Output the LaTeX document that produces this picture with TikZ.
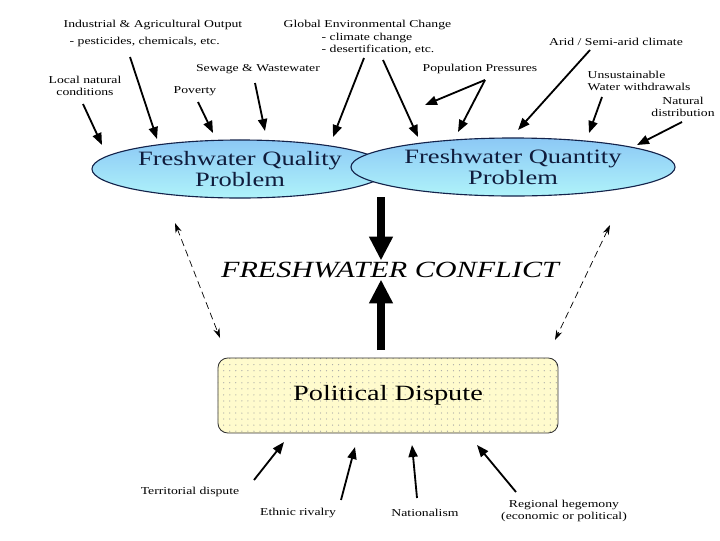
\documentclass[tikz,border=0pt]{standalone}
\usepackage{xcolor}
\usepackage{fontspec}
\setmainfont[FakeStretch=1.3]{Liberation Serif}
\usepackage{tikz}
\usetikzlibrary{arrows.meta,positioning,patterns,shapes.geometric}

\definecolor{navy}{RGB}{20,35,75}
\definecolor{skytop}{RGB}{140,200,245}
\definecolor{skybot}{RGB}{175,243,250}
\definecolor{boxfill}{RGB}{255,251,205}

% sparse dot grid for the dispute box
\pgfdeclarepatternformonly{sparsedots}{\pgfqpoint{-1pt}{-1pt}}{\pgfqpoint{1pt}{1pt}}{\pgfqpoint{4.3pt}{4.3pt}}{%
  \pgfpathcircle{\pgfqpoint{0pt}{0pt}}{0.45pt}\pgfusepath{fill}}

\begin{document}
\begin{tikzpicture}[
  x=0.025cm, y=-0.025cm,
  lbl/.style={font=\fontsize{7.5}{8.5}\selectfont, align=center, inner sep=1pt},
  prob/.style={ellipse, draw=navy, line width=0.8pt, top color=skytop, bottom color=skybot,
    minimum height=1.45cm, inner sep=0pt, text=navy!80!black, align=center,
    font=\fontsize{14.5}{15}\selectfont},
  dispute/.style={draw=black!80, rounded corners=7pt, line width=0.6pt,
    preaction={fill=boxfill}, pattern=sparsedots, pattern color=black!35,
    minimum width=8.5cm, minimum height=1.875cm, font=\fontsize{15.5}{16}\selectfont},
  feed/.style={-{Triangle[length=8.5pt,width=6.5pt]}, line width=1.3pt},
  big/.style={-{Triangle[length=17pt,width=16pt]}, line width=5.5pt},
  link/.style={{Stealth[length=7pt,width=4.5pt]}-{Stealth[length=7pt,width=4.5pt]},
    dashed, dash pattern=on 5pt off 3pt, line width=0.5pt},
]
\useasboundingbox (0,0) rectangle (720,540);

% problems
\node[prob, minimum width=7.4cm] (qual) at (240,169) {Freshwater Quality\\Problem};
\node[prob, minimum width=8.1cm] (quan) at (513,167) {Freshwater Quantity\\Problem};

% causes, top
\node[lbl, anchor=west] (ind) at (62,25) {Industrial \& Agricultural Output};
\node[lbl, anchor=west] (pest) at (68,42) {- pesticides, chemicals, etc.};
\node[lbl, anchor=west] (glob) at (282,25) {Global Environmental Change};
\node[lbl, anchor=west, align=left] (clim) at (320,44) {- climate change\\- desertification, etc.};
\node[lbl] (sew) at (258,69) {Sewage \& Wastewater};
\node[lbl] (loc) at (85,86) {Local natural\\conditions};
\node[lbl] (pov) at (195,91) {Poverty};
\node[lbl] (pop) at (480,69) {Population Pressures};
\node[lbl] (arid) at (616,42) {Arid / Semi-arid climate};
\node[lbl, anchor=west, align=left] (uns) at (586,81) {Unsustainable\\Water withdrawals};
\node[lbl] (nat) at (683,107) {Natural\\distribution};

\coordinate (loc-t) at (83,104);   \coordinate (loc-h) at (102,145);
\coordinate (ind-t) at (130,57);   \coordinate (ind-h) at (157,139);
\coordinate (pov-t) at (198,102);  \coordinate (pov-h) at (213,133);
\coordinate (sew-t) at (255,83);   \coordinate (sew-h) at (265,131);
\coordinate (glob-t1) at (364,58); \coordinate (glob-h1) at (333,137);
\coordinate (glob-t2) at (383,60); \coordinate (glob-h2) at (418,137);
\coordinate (pop-t) at (485,80);   \coordinate (pop-h1) at (425,105);
\coordinate (pop-h2) at (458,132);
\coordinate (arid-t) at (590,50);  \coordinate (arid-h) at (518,130);
\coordinate (uns-t) at (602,97);   \coordinate (uns-h) at (589,133);
\coordinate (nat-t) at (682,122);  \coordinate (nat-h) at (637,145);

\draw[feed] (loc-t) -- (loc-h);
\draw[feed] (ind-t) -- (ind-h);
\draw[feed] (pov-t) -- (pov-h);
\draw[feed] (sew-t) -- (sew-h);
\draw[feed] (glob-t1) -- (glob-h1);
\draw[feed] (glob-t2) -- (glob-h2);
\draw[feed] (pop-t) -- (pop-h1);
\draw[feed] (pop-t) -- (pop-h2);
\draw[feed] (arid-t) -- (arid-h);
\draw[feed] (uns-t) -- (uns-h);
\draw[feed] (nat-t) -- (nat-h);

% conflict
\node[font=\fontsize{16.5}{17}\selectfont\itshape, inner sep=1pt] (conf) at (390,270) {FRESHWATER CONFLICT};
\node[dispute] (pol) at (388,395.5) {Political Dispute};

\draw[big] (381,197) coordinate (qq) -- (conf.north -| qq);
\coordinate (up-t) at (381,350);
\draw[big] (up-t) -- (conf.south -| up-t);

\coordinate (dl-a) at (175,223); \coordinate (dl-b) at (220,338);
\coordinate (dr-a) at (610,225); \coordinate (dr-b) at (555,340);
\draw[link] (dl-a) -- (dl-b);
\draw[link] (dr-a) -- (dr-b);

% causes, bottom
\node[lbl] (terr) at (190,492) {Territorial dispute};
\node[lbl] (eth) at (298,513) {Ethnic rivalry};
\node[lbl] (natl) at (425,513) {Nationalism};
\node[lbl] (reg) at (564,511) {Regional hegemony\\(economic or political)};

\coordinate (terr-t) at (254,480); \coordinate (terr-h) at (284,442);
\coordinate (eth-t) at (341,500);  \coordinate (eth-h) at (355,447);
\coordinate (natl-t) at (417,498); \coordinate (natl-h) at (412,445);
\coordinate (reg-t) at (516,492);  \coordinate (reg-h) at (477,445);
\draw[feed] (terr-t) -- (terr-h);
\draw[feed] (eth-t) -- (eth-h);
\draw[feed] (natl-t) -- (natl-h);
\draw[feed] (reg-t) -- (reg-h);
\end{tikzpicture}
\end{document}
